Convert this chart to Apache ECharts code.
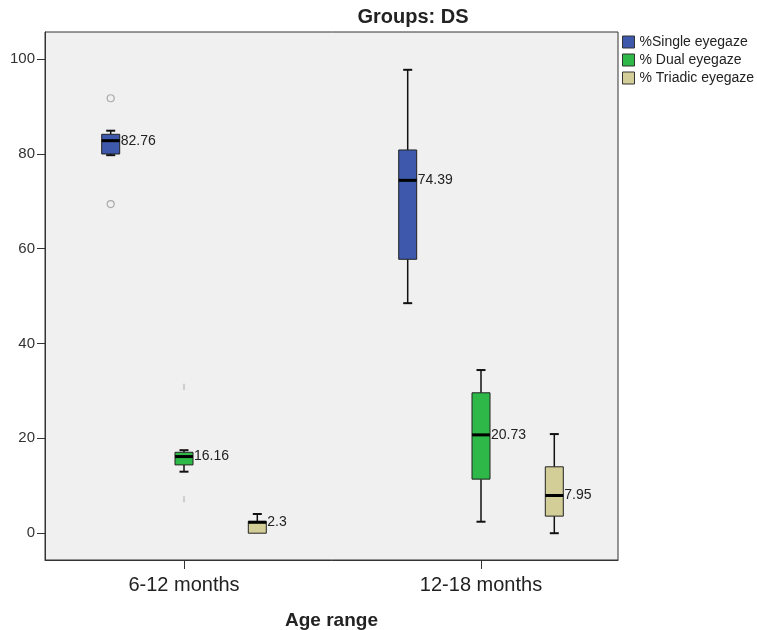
<!DOCTYPE html>
<html>
<head>
<meta charset="utf-8">
<script src="https://cdn.jsdelivr.net/npm/echarts@6/dist/echarts.min.js"></script>
<style>
  html, body { margin: 0; padding: 0; background: #ffffff; }
  #chart { width: 757px; height: 630px; }
</style>
</head>
<body>
<div id="chart"></div>
<script>
// ---- data ----
const categories = ['6-12 months', '12-18 months'];
const seriesNames = ['%Single eyegaze', '% Dual eyegaze', '% Triadic eyegaze'];
// each entry: [min, Q1, median, Q3, max] per age range
const singleBox  = [[79.7, 79.95, 82.76, 84.1, 84.86], [48.5, 57.75, 74.39, 80.8, 97.7]];
const dualBox    = [[12.97, 14.4, 16.16, 17.06, 17.5], [2.42, 11.4, 20.73, 29.6, 34.4]];
const triadicBox = [[0, 0, 2.3, 2.5, 4.05], [0, 3.6, 7.95, 14.0, 20.9]];
// outliers: [age range index, value]
const singleOutliers = [[0, 91.7], [0, 69.4]];
const dualOutliers   = [[0, 30.9], [0, 7.15]];
const yTicks = [0, 20, 40, 60, 80, 100];

// ---- styling / layout ----
const FONT = '"Liberation Sans", Arial, sans-serif';
const colors = ['#3E58AC', '#2EB848', '#D3CE97'];
const groupOffsets = [-73.3, 0, 73.3];   // px shift of each series inside a group
const BOX_W = 18, CAP_W = 9;
const GRID = { left: 45, top: 32, right: 757 - 618, bottom: 630 - 560 };
const PX_PER_CAT = 297, FIRST_CAT_PX = 184;
const xMin = (GRID.left - FIRST_CAT_PX) / PX_PER_CAT;
const xMax = (618 - FIRST_CAT_PX) / PX_PER_CAT;

function makeRenderer(color, offset) {
  return function (params, api) {
    const c = api.value(0);
    const yOf = v => api.coord([c, v])[1];
    const xc = api.coord([c, api.value(3)])[0] + offset;
    const yMin = yOf(api.value(1)), yQ1 = yOf(api.value(2)), yMed = yOf(api.value(3)),
          yQ3 = yOf(api.value(4)), yMax = yOf(api.value(5));
    const h = BOX_W / 2, ch = CAP_W / 2;
    const children = [];
    const stroke = { stroke: '#111', lineWidth: 1.5 };
    if (yMax < yQ3) {
      children.push({ type: 'line', shape: { x1: xc, y1: yMax, x2: xc, y2: yQ3 }, style: stroke });
      children.push({ type: 'line', shape: { x1: xc - ch, y1: yMax, x2: xc + ch, y2: yMax }, style: { stroke: '#111', lineWidth: 2 } });
    }
    if (yMin > yQ1) {
      children.push({ type: 'line', shape: { x1: xc, y1: yQ1, x2: xc, y2: yMin }, style: stroke });
      children.push({ type: 'line', shape: { x1: xc - ch, y1: yMin, x2: xc + ch, y2: yMin }, style: { stroke: '#111', lineWidth: 2 } });
    }
    children.push({ type: 'rect', shape: { x: xc - h, y: yQ3, width: BOX_W, height: yQ1 - yQ3 },
                    style: { fill: color, stroke: '#222', lineWidth: 1 } });
    children.push({ type: 'line', shape: { x1: xc - h, y1: yMed, x2: xc + h, y2: yMed },
                    style: { stroke: '#000', lineWidth: 3 } });
    children.push({ type: 'text', x: xc + h + 1, y: yMed,
                    style: { text: String(api.value(3)), fill: '#222', fontSize: 14, fontFamily: FONT,
                             align: 'left', verticalAlign: 'middle' } });
    return { type: 'group', children: children };
  };
}

const boxSets = [singleBox, dualBox, triadicBox];
const series = boxSets.map((set, k) => ({
  type: 'custom',
  name: seriesNames[k],
  itemStyle: { color: colors[k] },
  renderItem: makeRenderer(colors[k], groupOffsets[k]),
  encode: { x: 0, y: [1, 2, 3, 4, 5] },
  data: set.map((d, i) => [i].concat(d)),
  z: 3
}));
series.push({
  type: 'scatter', name: 'single outliers', data: singleOutliers,
  symbol: 'circle', symbolSize: 7, symbolOffset: [groupOffsets[0], 0],
  itemStyle: { color: 'rgba(0,0,0,0)', borderColor: '#999', borderWidth: 1.2 }, z: 4
});
series.push({
  type: 'scatter', name: 'dual outliers', data: dualOutliers,
  symbol: 'rect', symbolSize: [2, 6], symbolOffset: [groupOffsets[1], 0],
  itemStyle: { color: '#c4c4c4' }, z: 4
});

const chart = echarts.init(document.getElementById('chart'), null, { renderer: 'canvas' });
chart.setOption({
  animation: false,
  backgroundColor: '#ffffff',
  title: {
    text: 'Groups: DS', left: 413, top: 7, textAlign: 'center', padding: 0,
    textStyle: { fontFamily: FONT, fontSize: 20, fontWeight: 'bold', color: '#222' }
  },
  legend: {
    data: seriesNames, orient: 'vertical', left: 622, top: 35, padding: 0,
    itemWidth: 12, itemHeight: 12, itemGap: 4, icon: 'rect',
    itemStyle: { borderColor: '#333', borderWidth: 1 },
    textStyle: { fontFamily: FONT, fontSize: 14, color: '#222', padding: [0, 0, 0, 0] }
  },
  grid: Object.assign({ show: true, backgroundColor: '#F0F0F0', borderColor: '#333', borderWidth: 1,
                        containLabel: false, outerBoundsMode: 'none' }, GRID),
  xAxis: {
    type: 'value', min: xMin, max: xMax,
    axisLine: { show: true, onZero: false, lineStyle: { color: '#333' } },
    axisTick: { show: true, length: 9, lineStyle: { color: '#333' }, customValues: categories.map((c, i) => i) },
    axisLabel: { customValues: categories.map((c, i) => i), formatter: v => categories[Math.round(v)],
                 fontFamily: FONT, fontSize: 20, color: '#222', margin: 15 },
    splitLine: { show: false },
    name: 'Age range', nameLocation: 'middle', nameGap: 51,
    nameTextStyle: { fontFamily: FONT, fontSize: 19, fontWeight: 'bold', color: '#222' }
  },
  yAxis: {
    type: 'value', min: -5.65, max: 105.67,
    axisLine: { show: true, onZero: false, lineStyle: { color: '#333' } },
    axisTick: { show: true, length: 8, lineStyle: { color: '#333' }, customValues: yTicks },
    axisLabel: { customValues: yTicks, fontFamily: FONT, fontSize: 15, color: '#333', margin: 10 },
    splitLine: { show: false }
  },
  series: series
});
</script>
</body>
</html>
